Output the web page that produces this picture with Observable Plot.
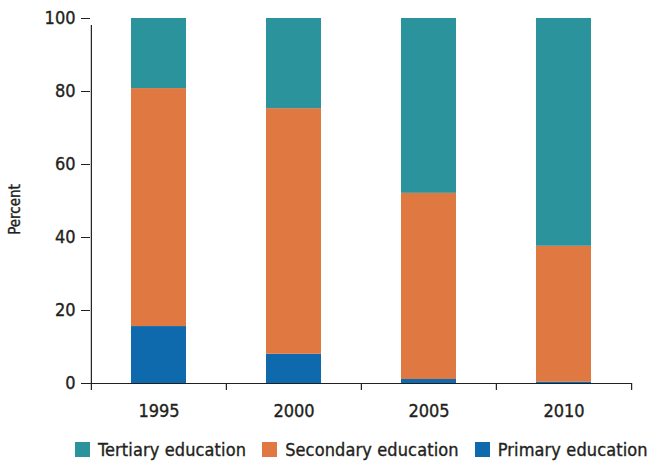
<!DOCTYPE html>
<html><head><meta charset="utf-8">
<script src="https://cdn.jsdelivr.net/npm/d3@7"></script>
<script src="https://cdn.jsdelivr.net/npm/@observablehq/plot@0.6"></script>
<style>
body{margin:0;background:#fff;}
#wrap{position:relative;width:648px;height:461px;overflow:hidden;font-family:"DejaVu Sans Condensed","DejaVu Sans",sans-serif;font-stretch:condensed;}
#wrap svg text{stroke:#231f20;stroke-width:0.35px;}
#legend{position:absolute;left:75px;top:442px;display:flex;align-items:center;font-size:18px;letter-spacing:0.12px;color:#231f20;line-height:15px;white-space:nowrap;-webkit-text-stroke:0.35px #231f20;}
.item{display:flex;align-items:center;margin-right:16px}
.item:last-child{margin-right:0}
.sw{width:15px;height:15px;margin-right:8px;flex:none}
</style></head><body><div id="wrap"></div>
<script>
const years = ["1995", "2000", "2005", "2010"];
const seriesNames = ["Primary education", "Secondary education", "Tertiary education"];
const primary = [15.6, 8.0, 1.1, 0.4];
const secondary = [65.2, 67.3, 51.0, 37.2];
const tertiary = [19.2, 24.7, 47.9, 62.4];
const colors = ["#0F6AAD", "#E07841", "#2A939C"];
const yTicks = [0, 20, 40, 60, 80, 100];
const legendOrder = ["Tertiary education", "Secondary education", "Primary education"];
const yLabel = "Percent";

const data = [];
[primary, secondary, tertiary].forEach((vals, s) =>
  vals.forEach((v, i) => data.push({year: years[i], series: seriesNames[s], value: v})));

const W = 648, H = 425, mL = 90, mR = 17, mT = 18, mB = 42;
const pIn = 0.594, pOut = 0.297;
const step = (W - mL - mR) / (years.length - pIn + 2 * pOut);
const half = step / 2;
const ink = "#231f20";
const font = '"DejaVu Sans Condensed","DejaVu Sans",sans-serif';

const chart = Plot.plot({
  width: W, height: H, marginTop: mT, marginBottom: mB, marginLeft: mL, marginRight: mR,
  style: {fontFamily: font, fontSize: "18px", color: ink, background: "white", fontStretch: "condensed"},
  x: {domain: years, paddingInner: pIn, paddingOuter: pOut},
  y: {domain: [0, 100]},
  color: {domain: seriesNames, range: colors},
  marks: [
    Plot.barY(data, {x: "year", y: "value", fill: "series"}),
    Plot.axisY(yTicks, {tickSize: 9, tickPadding: 6, stroke: ink, fill: ink, label: null, fontSize: 18}),
    Plot.axisX({tickSize: 0, tickPadding: 21, fill: ink, label: null, fontSize: 18}),
    Plot.ruleY([0], {stroke: ink, strokeWidth: 1.2}),
    Plot.ruleX([years[0]], {x: d => d, y1: 0, y2: 100, dx: -half, insetBottom: -7, stroke: ink, strokeWidth: 1.2}),
    Plot.ruleX(years, {x: d => d, y1: 0, y2: 0, dx: -half, insetBottom: -7, stroke: ink, strokeWidth: 1.2}),
    Plot.ruleX([years[years.length - 1]], {x: d => d, y1: 0, y2: 0, dx: half, insetBottom: -7, stroke: ink, strokeWidth: 1.2}),
    Plot.text([yLabel], {frameAnchor: "left", textAnchor: "middle", rotate: -90, dx: -75, dy: 8.5, fontSize: 15, fill: ink})
  ]
});
const wrap = document.getElementById("wrap");
wrap.appendChild(chart);

const legend = document.createElement("div");
legend.id = "legend";
legendOrder.forEach(name => {
  const item = document.createElement("div");
  item.className = "item";
  const sw = document.createElement("span");
  sw.className = "sw";
  sw.style.background = colors[seriesNames.indexOf(name)];
  const t = document.createElement("span");
  t.textContent = name;
  item.appendChild(sw); item.appendChild(t);
  legend.appendChild(item);
});
wrap.appendChild(legend);
</script></body></html>
